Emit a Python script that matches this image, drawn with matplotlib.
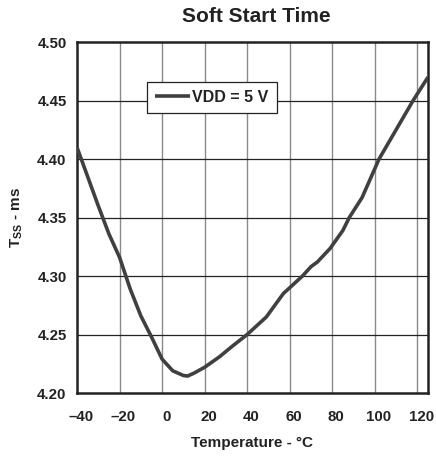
import matplotlib
matplotlib.use("Agg")
import matplotlib.pyplot as plt
from matplotlib.transforms import ScaledTranslation

plt.rcParams['font.family'] = ['Liberation Sans', 'DejaVu Sans']
plt.rcParams['mathtext.fontset'] = 'custom'
plt.rcParams['mathtext.rm'] = 'Liberation Sans:bold'
plt.rcParams['mathtext.bf'] = 'Liberation Sans:bold'

temp = [-40, -35, -30, -25, -20, -15, -10, -5, 0, 5, 10, 12, 15, 20, 27, 33, 40,
        49, 57, 66, 70, 73, 79, 85, 88, 94, 102, 110, 118, 125]
tss = [4.410, 4.385, 4.360, 4.336, 4.316, 4.289, 4.266, 4.248, 4.229, 4.219, 4.215,
       4.2145, 4.217, 4.222, 4.231, 4.240, 4.250, 4.265, 4.285, 4.300, 4.308, 4.312,
       4.3236, 4.339, 4.350, 4.367, 4.400, 4.425, 4.450, 4.470]
xticks = [-40, -20, 0, 20, 40, 60, 80, 100, 120]
xticklabels = ['\u201340', '\u201320', '0', '20', '40', '60', '80', '100', '120']
yticks = [4.20, 4.25, 4.30, 4.35, 4.40, 4.45, 4.50]
yticklabels = ['4.20', '4.25', '4.30', '4.35', '4.40', '4.45', '4.50']

fig = plt.figure(figsize=(4.36, 4.57), dpi=100)
ax = fig.add_axes([0.1766, 0.140, 0.805, 0.768])

for xv in xticks[1:]:
    ax.axvline(xv, color='#8a8a8a', lw=1.0, zorder=1)
for yv in yticks[1:-1]:
    ax.axhline(yv, color='#222222', lw=0.9, zorder=1)

ax.plot(temp, tss, color='#404040', lw=2.6, label='VDD = 5 V', zorder=3,
        solid_capstyle='butt')

ax.set_xlim(-40, 125)
ax.set_ylim(4.20, 4.50)
ax.set_xticks(xticks)
ax.set_xticklabels(xticklabels, fontsize=10.8, fontweight='bold', color='#222222')
ax.set_yticks(yticks)
ax.set_yticklabels(yticklabels, fontsize=10.8, fontweight='bold', color='#222222')
ax.tick_params(axis='x', length=0, pad=12.5)
ax.tick_params(axis='y', length=0, pad=7.5)
shift = ScaledTranslation(4 / 100, 0, fig.dpi_scale_trans)
for lab in ax.get_xticklabels():
    lab.set_transform(lab.get_transform() + shift)
for s in ax.spines.values():
    s.set_linewidth(1.8)
    s.set_color('#222222')

ax.set_xlabel('Temperature - \u00b0C', fontsize=11, fontweight='bold', color='#222222',
              labelpad=8.5)
ax.set_ylabel(r'T$_{\mathregular{SS}}$ - ms', fontsize=11, fontweight='bold',
              color='#222222', labelpad=9)

fig.text(0.587, 0.952, 'Soft Start Time', fontsize=15, fontweight='bold',
         ha='center', va='baseline', color='#222222')

leg = ax.legend(loc='upper left', bbox_to_anchor=(0.199, 0.886), frameon=True,
                fancybox=False, edgecolor='#222222', framealpha=1,
                prop={'weight': 'bold', 'size': 11.5}, handlelength=2.2,
                handletextpad=0.15, borderpad=0.5, borderaxespad=0)
leg.get_frame().set_linewidth(0.9)
for t in leg.get_texts():
    t.set_color('#222222')

fig.savefig('out.png', dpi=100)
